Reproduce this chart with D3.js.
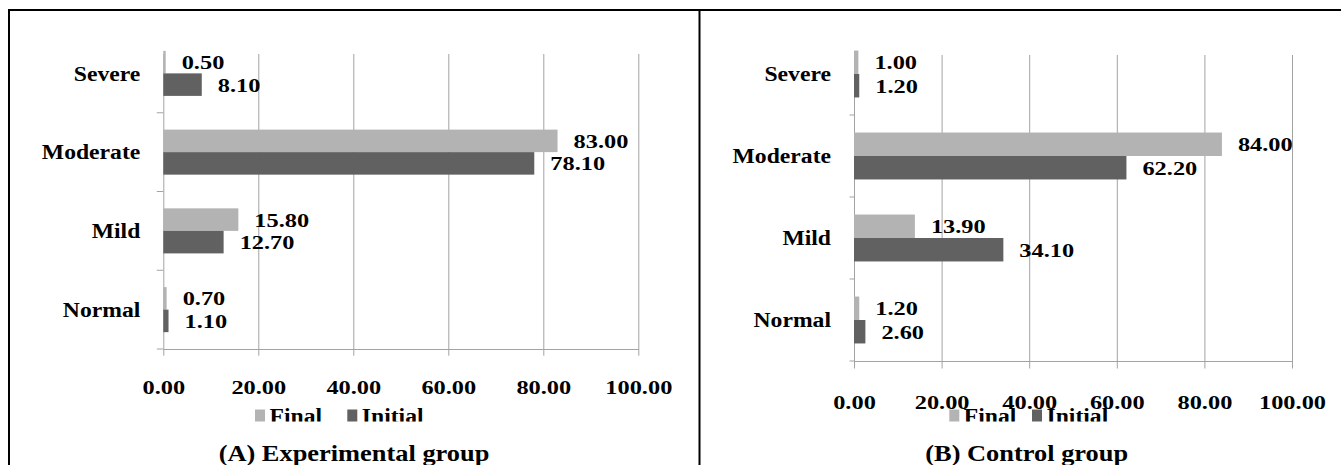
<!DOCTYPE html>
<html>
<head>
<meta charset="utf-8">
<script src="https://cdn.jsdelivr.net/npm/d3@7"></script>
<style>
  html, body { margin: 0; padding: 0; background: #fff; }
  svg { display: block; }
  text { font-family: "Liberation Serif", "Times New Roman", serif; font-weight: bold; fill: #000; }
</style>
</head>
<body>
<div id="chart"></div>
<script>
const width = 1341;
const height = 465;

// data, listed top to bottom as drawn
const categories = ["Severe", "Moderate", "Mild", "Normal"];
const series = ["Final", "Initial"];
const expFinal = [0.50, 83.00, 15.80, 0.70];
const expInitial = [8.10, 78.10, 12.70, 1.10];
const ctrlFinal = [1.00, 84.00, 13.90, 1.20];
const ctrlInitial = [1.20, 62.20, 34.10, 2.60];
const xTicks = [0, 20, 40, 60, 80, 100];
const titles = ["(A) Experimental group", "(B) Control group"];

const colors = { Final: "#b3b3b3", Initial: "#616161" };
const gridColor = "#a3a3a3";

// layout of the two panels
const panels = [
  { values: { Final: expFinal, Initial: expInitial }, title: titles[0],
    x0: 163.3, x1: 638.3, top: 54, bandTop: 34, axisY: 349, labelDrop: 45.3,
    tickLen: 6.7, catTick: 6.5, titleX: 354, legendX: [255, 347.3] },
  { values: { Final: ctrlFinal, Initial: ctrlInitial }, title: titles[1],
    x0: 854, x1: 1292, top: 55, bandTop: 33, axisY: 361, labelDrop: 47.5,
    tickLen: 7.5, catTick: 4.5, titleX: 1026.7, legendX: [949.3, 1032] }
];

const svg = d3.select("#chart").append("svg")
  .attr("width", width)
  .attr("height", height);

// legend text is cut off at the bottom in the original
svg.append("defs").append("clipPath")
  .attr("id", "legend-clip")
  .append("rect")
  .attr("x", 0).attr("y", 0)
  .attr("width", width).attr("height", 421.5);

// frame
svg.append("line").attr("x1", 8).attr("x2", width).attr("y1", 10).attr("y2", 10)
  .attr("stroke", "#000").attr("stroke-width", 2);
svg.append("line").attr("x1", 9).attr("x2", 9).attr("y1", 9).attr("y2", height)
  .attr("stroke", "#000").attr("stroke-width", 2);
svg.append("line").attr("x1", 699.5).attr("x2", 699.5).attr("y1", 9).attr("y2", height)
  .attr("stroke", "#000").attr("stroke-width", 2);

function stretchedText(parent, x, y, sx, size, anchor, str) {
  return parent.append("text")
    .attr("transform", `translate(${x},${y}) scale(${sx},1)`)
    .attr("font-size", size + "px")
    .attr("text-anchor", anchor)
    .text(str);
}

panels.forEach(p => {
  const g = svg.append("g");

  const x = d3.scaleLinear().domain([0, 100]).range([p.x0, p.x1]);
  const y = d3.scaleBand().domain(categories)
    .range([p.bandTop, p.axisY])
    .paddingInner(0.428)
    .paddingOuter(0.214);
  const ySub = d3.scaleBand().domain(series).range([0, y.bandwidth()]);

  // vertical gridlines
  const grid = g.append("g")
    .attr("transform", `translate(0,${p.axisY})`)
    .call(d3.axisBottom(x).tickValues(xTicks).tickSize(-(p.axisY - p.top)).tickFormat(""));
  grid.select(".domain").remove();
  grid.selectAll("line").attr("stroke", gridColor);

  // bottom axis with labels
  const ax = g.append("g")
    .attr("transform", `translate(0,${p.axisY})`)
    .call(d3.axisBottom(x).tickValues(xTicks).tickSize(p.tickLen).tickSizeOuter(0)
      .tickFormat(d3.format(".2f")));
  ax.select(".domain").attr("stroke", gridColor);
  ax.selectAll("line").attr("stroke", gridColor);
  ax.selectAll("text")
    .attr("y", null).attr("dy", null)
    .attr("fill", "#000")
    .attr("font-size", "19.5px")
    .attr("font-family", "Liberation Serif, Times New Roman, serif")
    .attr("font-weight", "bold")
    .attr("transform", `translate(0,${p.labelDrop}) scale(1.25,1)`);

  // category boundary ticks
  const bounds = d3.range(1, categories.length + 1).map(i => p.bandTop + i * y.step());
  g.selectAll("line.cat-tick")
    .data(bounds)
    .join("line")
    .attr("class", "cat-tick")
    .attr("x1", x(0) - p.catTick).attr("x2", x(0))
    .attr("y1", d => d).attr("y2", d => d)
    .attr("stroke", gridColor);

  // category labels
  categories.forEach(c => {
    stretchedText(g, x(0) - 23, y(c) + y.bandwidth() / 2 + 7.3, 1.1, 21.5, "end", c);
  });

  // bars and value labels
  series.forEach(s => {
    categories.forEach((c, i) => {
      const v = p.values[s][i];
      const by = y(c) + ySub(s);
      g.append("rect")
        .attr("x", x(0))
        .attr("y", by)
        .attr("width", x(v) - x(0))
        .attr("height", ySub.bandwidth())
        .attr("fill", colors[s]);
      stretchedText(g, x(v) + 16, by + ySub.bandwidth() / 2 + 7, 1.25, 19.5, "start", d3.format(".2f")(v));
    });
  });

  // legend
  const lg = g.append("g").attr("clip-path", "url(#legend-clip)");
  series.forEach((s, i) => {
    const lx = p.legendX[i];
    lg.append("rect")
      .attr("x", lx).attr("y", 409.5)
      .attr("width", 10).attr("height", 12.5)
      .attr("fill", colors[s]);
    stretchedText(lg, lx + 14.5, 423, 1.1, 21.5, "start", s);
  });

  // panel title
  stretchedText(g, p.titleX, 461, 1.1, 24, "middle", p.title);
});
</script>
</body>
</html>
